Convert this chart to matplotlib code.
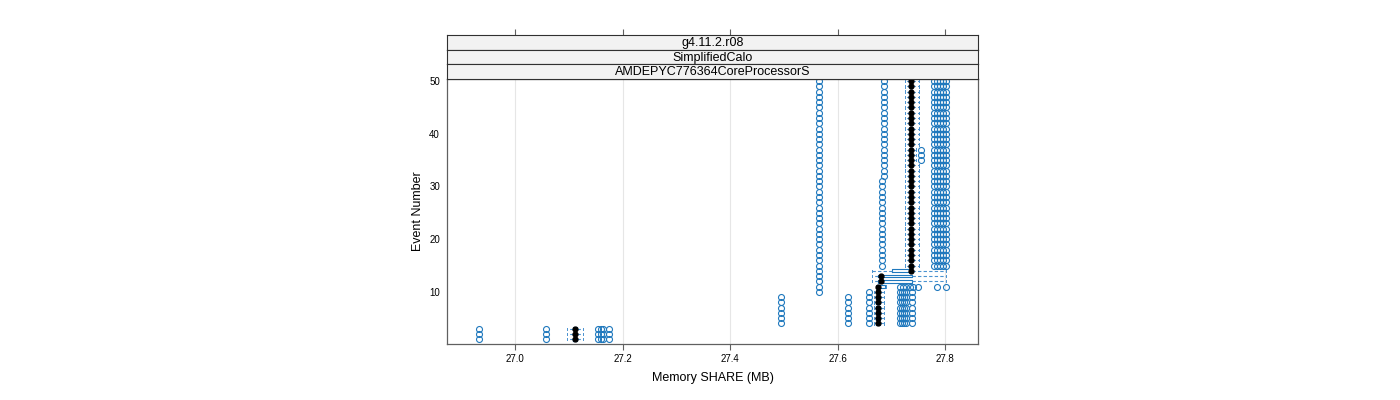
"""
Per-event box plots of memory SHARE (lattice bwplot look-alike).
"""

import matplotlib
matplotlib.use('Agg')
import matplotlib.pyplot as plt
import numpy as np

plt.rcParams['font.family'] = ['Liberation Sans', 'DejaVu Sans']

# ---------------------------------------------------------------------------
# Data: one row per block of events sharing stats
# ---------------------------------------------------------------------------
block_first = [1, 4, 10, 11, 12, 13, 14, 15, 32, 35, 38]
block_last  = [3, 9, 10, 11, 12, 13, 14, 31, 34, 37, 50]

whislo = [27.097, 27.668, 27.668, 27.671, 27.664, 27.664, 27.664, 27.726, 27.726, 27.726, 27.726]
q1     = [27.108, 27.672, 27.672, 27.675, 27.675, 27.675, 27.701, 27.735, 27.735, 27.735, 27.735]
med    = [27.112, 27.675, 27.675, 27.675, 27.681, 27.681, 27.737, 27.737, 27.737, 27.737, 27.737]
q3     = [27.116, 27.678, 27.678, 27.688, 27.739, 27.739, 27.739, 27.739, 27.739, 27.739, 27.739]
whishi = [27.127, 27.686, 27.686, 27.690, 27.802, 27.802, 27.802, 27.752, 27.752, 27.746, 27.752]

right_cluster = [27.779, 27.784, 27.790, 27.795, 27.801]
fliers = [
    [26.933, 27.058, 27.154, 27.160, 27.164, 27.175],
    [27.495, 27.620, 27.659, 27.716, 27.720, 27.724, 27.728, 27.738],
    [27.5656, 27.659, 27.716, 27.720, 27.724, 27.728, 27.738],
    [27.5656, 27.716, 27.722, 27.728, 27.734, 27.741, 27.750, 27.785, 27.802],
    [27.5656],
    [27.5656],
    [27.5656],
    [27.5656, 27.682] + right_cluster,
    [27.5656, 27.686] + right_cluster,
    [27.5656, 27.686, 27.755] + right_cluster,
    [27.5656, 27.686] + right_cluster,
]

x_ticks = [27.0, 27.2, 27.4, 27.6, 27.8]
y_ticks = [10, 20, 30, 40, 50]
strips = ['g4.11.2.r08', 'SimplifiedCalo', 'AMDEPYC776364CoreProcessorS']

BLUE = '#1f78bd'
MID_BLUE = '#4a92d0'
FRAME = '#606060'

# ---------------------------------------------------------------------------
# Build bxp stats
# ---------------------------------------------------------------------------
stats, positions = [], []
for i, (a, b) in enumerate(zip(block_first, block_last)):
    for ev in range(a, b + 1):
        stats.append(dict(whislo=whislo[i], q1=q1[i], med=med[i], mean=med[i],
                          q3=q3[i], whishi=whishi[i], fliers=fliers[i]))
        positions.append(ev)

# ---------------------------------------------------------------------------
# Plot
# ---------------------------------------------------------------------------
fig = plt.figure(figsize=(14, 4), dpi=100)
W, H = 1400, 400
left, right, top, bottom = 447, 978, 79, 344
ax = fig.add_axes([left / W, 1 - bottom / H, (right - left) / W, (bottom - top) / H])

ax.bxp(stats, positions=positions, orientation='horizontal', widths=0.55,
       capwidths=0.45, showmeans=True, meanline=False, patch_artist=False,
       boxprops=dict(color=BLUE, linewidth=0.8),
       whiskerprops=dict(color=MID_BLUE, linewidth=0.8, linestyle=(0, (3, 2))),
       capprops=dict(color=MID_BLUE, linewidth=0.7),
       medianprops=dict(visible=False),
       meanprops=dict(marker='o', markerfacecolor='black', markeredgecolor='black',
                      markersize=3.5, zorder=4),
       flierprops=dict(marker='o', markerfacecolor='none', markeredgecolor=BLUE,
                       markersize=4.3, markeredgewidth=0.8))

ax.set_xlim(26.8735, 27.861)
ax.set_ylim(0.1, 50.4)
ax.set_xticks(x_ticks)
ax.set_xticklabels([f'{v:.1f}' for v in x_ticks])
ax.set_yticks(y_ticks)
ax.set_yticklabels([str(v) for v in y_ticks])
for v in x_ticks:
    ax.axvline(v, color='#e6e6e6', linewidth=0.8, zorder=0)

ax.tick_params(axis='x', direction='out', length=4.5, width=0.8, color=FRAME,
               labelsize=7, pad=2.5, top=False)
ax.tick_params(axis='y', length=0, labelsize=7, pad=5, right=False)
for s in ax.spines.values():
    s.set_color(FRAME)
    s.set_linewidth(0.9)

ax.set_xlabel('Memory SHARE (MB)', fontsize=9, labelpad=6)
ax.set_ylabel('Event Number', fontsize=9, labelpad=4)

# strips above the panel
strip_h = (top - 35) / 3
for k, label in enumerate(strips):
    y_top = 35 + k * strip_h
    sax = fig.add_axes([left / W, 1 - (y_top + strip_h) / H, (right - left) / W, strip_h / H],
                       sharex=ax)
    sax.set_facecolor('#f2f2f2')
    sax.set_yticks([])
    sax.tick_params(axis='x', bottom=False, labelbottom=False,
                    top=(k == 0), labeltop=False, direction='out',
                    length=4.5, width=0.8, color=FRAME)
    for s in sax.spines.values():
        s.set_color('#303030')
        s.set_linewidth(0.8)
    sax.text(0.5, 0.45, label, transform=sax.transAxes, ha='center', va='center',
             fontsize=9)

fig.savefig('out.png', dpi=100)
